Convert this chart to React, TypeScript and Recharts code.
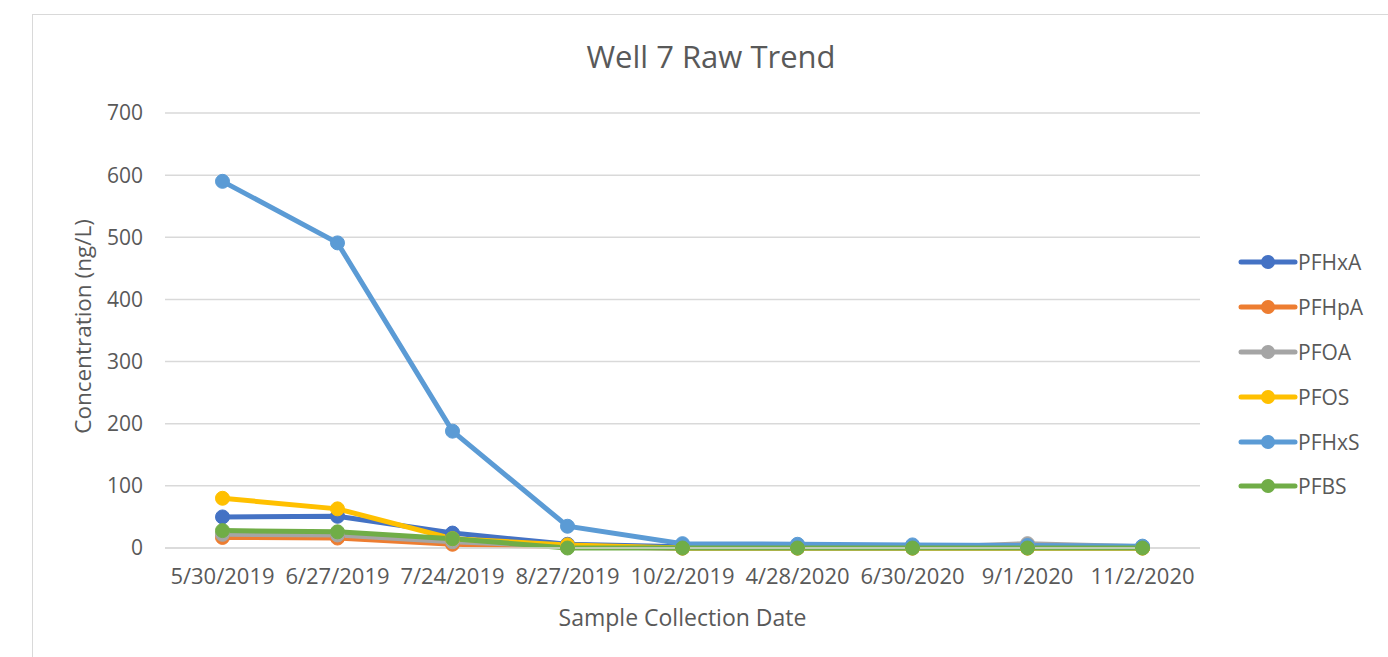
import React from 'react';
import { LineChart, Line, XAxis, YAxis, CartesianGrid } from 'recharts';

const dates = ['5/30/2019', '6/27/2019', '7/24/2019', '8/27/2019', '10/2/2019', '4/28/2020', '6/30/2020', '9/1/2020', '11/2/2020'];
const pfhxa = [50, 51, 24, 6, 2, 2, 2, 2, 1];
const pfhpa = [17, 16, 6, 2, 0, 0, 0, 0, 0];
const pfoa = [22, 21, 10, 3, 0, 0, 0, 7, 2];
const pfos = [80, 63, 15, 5, 0, 0, 0, 0, 0];
const pfhxs = [590, 491, 188, 35, 7, 6, 5, 4, 3];
const pfbs = [28, 26, 15, 0, 0, 0, 0, 0, 0];
const yTicks = [0, 100, 200, 300, 400, 500, 600, 700];

const seriesNames = ['PFHxA', 'PFHpA', 'PFOA', 'PFOS', 'PFHxS', 'PFBS'];
const seriesValues = [pfhxa, pfhpa, pfoa, pfos, pfhxs, pfbs];
const seriesColors = ['#4472C4', '#ED7D31', '#A5A5A5', '#FFC000', '#5B9BD5', '#70AD47'];

const data = dates.map((d, i) => {
  const row: Record<string, string | number> = { date: d };
  seriesNames.forEach((n, k) => {
    row[n] = seriesValues[k][i];
  });
  return row;
});

const FONT = '"Open Sans", sans-serif';
const TEXT = '#595959';

const LegendBlock = () => (
  <div style={{ position: 'absolute', left: 1238, top: 240, fontFamily: FONT, fontSize: 21, color: TEXT }}>
    {seriesNames.map((n, i) => (
      <div key={n} style={{ display: 'flex', alignItems: 'center', height: 44.8 }}>
        <svg width={60} height={16} style={{ display: 'block' }}>
          <line x1={3} y1={8} x2={57} y2={8} stroke={seriesColors[i]} strokeWidth={5} strokeLinecap="round" />
          <circle cx={30} cy={8} r={7} fill={seriesColors[i]} />
        </svg>
        <span style={{ marginLeft: 0 }}>{n}</span>
      </div>
    ))}
  </div>
);

const YLabel = (props: any) => {
  const vb = props.viewBox || {};
  const cx = vb.x + 82;
  const cy = vb.y + vb.height / 2 - 4;
  return (
    <text x={cx} y={cy} transform={`rotate(-90, ${cx}, ${cy})`} textAnchor="middle" dominantBaseline="central"
      fontFamily={FONT} fontSize={22.5} fill={TEXT}>
      Concentration (ng/L)
    </text>
  );
};

export default function App() {
  return (
    <div style={{ position: 'absolute', left: 0, top: 0, width: 1388, height: 657, overflow: 'hidden', background: '#fff' }}>
      <div style={{ position: 'absolute', left: 32, top: 14, width: 1420, height: 700, border: '1.5px solid #d9d9d9', boxSizing: 'border-box' }} />
      <div style={{ position: 'absolute', left: 0, width: 1422, top: 35, textAlign: 'center', fontFamily: FONT, fontSize: 31, color: TEXT }}>
        Well 7 Raw Trend
      </div>
      <div style={{ position: 'absolute', left: 0, top: 0 }}>
        <LineChart width={1388} height={657} data={data} margin={{ top: 113, right: 188, bottom: 9, left: 0 }}>
          <CartesianGrid horizontal vertical={false} stroke="#d9d9d9" strokeWidth={1.5} />
          <XAxis dataKey="date" height={100} tickLine={false} tickSize={0} tickMargin={20}
            padding={{ left: 57.5, right: 57.5 }}
            axisLine={{ stroke: '#d9d9d9', strokeWidth: 1.5 }}
            tick={{ fontFamily: FONT, fontSize: 22, fill: TEXT }} interval={0}
            label={{ value: 'Sample Collection Date', position: 'insideBottom', offset: 22, fontFamily: FONT, fontSize: 23, fill: TEXT }} />
          <YAxis width={165} domain={[0, 700]} ticks={yTicks} interval={0} tickLine={false} axisLine={false} tickSize={0} tickMargin={22}
            tick={{ fontFamily: FONT, fontSize: 21, fill: TEXT }} label={<YLabel />} />
          {seriesNames.map((n, i) => (
            <Line key={n} type="linear" dataKey={n} stroke={seriesColors[i]} strokeWidth={5}
              dot={{ r: 7, fill: seriesColors[i], stroke: seriesColors[i], strokeWidth: 1 }}
              activeDot={false} isAnimationActive={false} />
          ))}
        </LineChart>
      </div>
      <LegendBlock />
    </div>
  );
}
